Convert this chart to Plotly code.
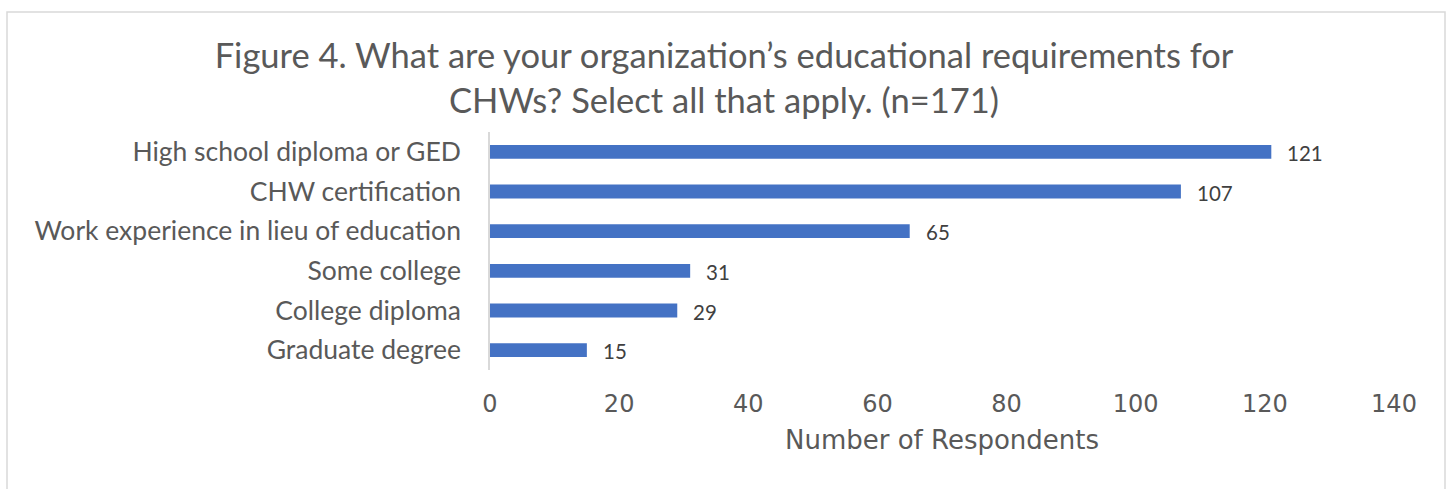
import plotly.graph_objects as go

categories = [
    "High school diploma or GED",
    "CHW certification",
    "Work experience in lieu of education",
    "Some college",
    "College diploma",
    "Graduate degree",
]
values = [121, 107, 65, 31, 29, 15]
x_ticks = [0, 20, 40, 60, 80, 100, 120, 140]

title_text = ("Figure 4. What are your organization\u2019s educational requirements for"
              "<br>CHWs? Select all that apply. (n=171)")
x_title = "Number of Respondents"

W, H = 1448, 489
L, R, T, B = 490, 54, 132, 119

fig = go.Figure()
fig.add_trace(go.Bar(
    x=values, y=categories, orientation="h",
    marker=dict(color="#4472C4", line=dict(width=0)),
    hoverinfo="x+y",
))

for c, v in zip(categories, values):
    fig.add_annotation(x=v, y=c, text=str(v), showarrow=False,
                       xanchor="left", xshift=14, yshift=-1,
                       font=dict(family="Lato", size=20.5, color="#404040"))

pw = W - L - R
ph = H - T - B
fig.add_shape(type="rect", xref="paper", yref="paper",
              x0=(7 - L) / pw, x1=(1445 - L) / pw,
              y0=-(520 - (H - B)) / ph,
              y1=(H - B - 12) / ph,
              line=dict(color="#D9D9D9", width=1.5), fillcolor="rgba(0,0,0,0)",
              layer="below")

fig.update_layout(
    width=W, height=H,
    margin=dict(l=L, r=R, t=T, b=B, pad=0),
    paper_bgcolor="white", plot_bgcolor="white",
    bargap=0.65,
    showlegend=False,
    title=dict(text=title_text, x=0.5, xref="container", xanchor="center",
               y=1 - 68 / H, yanchor="top",
               font=dict(family="Lato", size=34.5, color="#595959")),
    xaxis=dict(range=[0, 140], tickvals=x_ticks, showgrid=False, zeroline=False,
               showline=False, ticks="", ticklabelstandoff=17,
               tickfont=dict(family="DejaVu Sans", size=24, color="#595959"),
               title=dict(text=x_title, standoff=13,
                          font=dict(family="DejaVu Sans", size=26, color="#595959"))),
    yaxis=dict(autorange="reversed", showgrid=False, zeroline=False,
               showline=True, linecolor="#D9D9D9", linewidth=1.5,
               ticks="", ticklabelstandoff=22,
               tickfont=dict(family="Lato", size=26.5, color="#595959")),
)

fig.write_html("out.html", config={"displayModeBar": False},
               post_script="document.body.style.margin='0';")
